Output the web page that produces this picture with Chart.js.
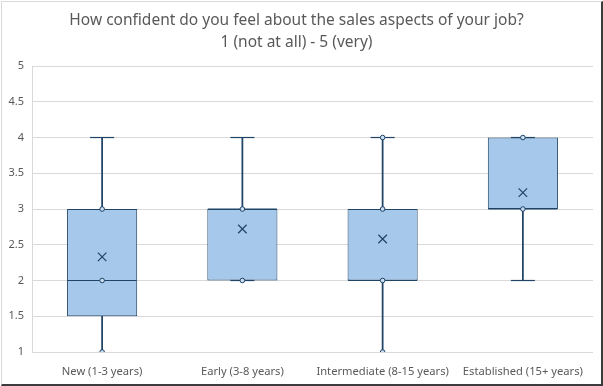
<!DOCTYPE html>
<html>
<head>
<meta charset="utf-8">
<script src="https://cdn.jsdelivr.net/npm/chart.js@4"></script>
<style>
  html, body { margin: 0; padding: 0; background: #fff; }
  #wrap { position: relative; width: 603px; height: 386px; }
  #frame {
    position: absolute; left: 1px; top: 1px; right: 0; bottom: 0;
    border-top: 1px solid #d9d9d9; border-left: 1px solid #d9d9d9;
    border-right: 2px solid #3c3c3c; border-bottom: 2px solid #3c3c3c;
    pointer-events: none;
  }
  canvas { display: block; }
</style>
</head>
<body>
<div id="wrap">
  <canvas id="chart" width="603" height="386"></canvas>
  <div id="frame"></div>
</div>
<script>
const categories = ["New (1-3 years)", "Early (3-8 years)", "Intermediate (8-15 years)", "Established (15+ years)"];
const mins = [1, 2, 1, 2];
const q1s = [1.5, 2, 2, 3];
const medians = [2, 3, 2, 3];
const q3s = [3, 3, 3, 4];
const maxs = [4, 4, 4, 4];
const means = [2.33, 2.72, 2.58, 3.23];
const innerPoints = [[1, 2, 3], [2, 3], [1, 2, 3, 4], [3, 4]];

const FILL = "#a6c8ea";
const DARK = "#1f4466";
const GREY_TEXT = "#595959";
const FONT = "'Noto Sans', sans-serif";

const boxData = categories.map((c, i) => [q1s[i], q3s[i]]);
const lowWhisker = categories.map((c, i) => (mins[i] < q1s[i] ? [mins[i], q1s[i]] : null));
const highWhisker = categories.map((c, i) => (maxs[i] > q3s[i] ? [q3s[i], maxs[i]] : null));
const capData = [];
categories.forEach((c, i) => {
  capData.push({ x: c, y: mins[i] });
  capData.push({ x: c, y: maxs[i] });
});
const medianData = categories.map((c, i) => ({ x: c, y: medians[i] }));
const meanData = categories.map((c, i) => ({ x: c, y: means[i] }));
const dotData = [];
innerPoints.forEach((vals, i) => vals.forEach((v) => dotData.push({ x: categories[i], y: v })));

new Chart(document.getElementById("chart"), {
  type: "bar",
  data: {
    labels: categories,
    datasets: [
      {
        type: "line", data: meanData, showLine: false, order: 0,
        pointStyle: "crossRot", pointRadius: 6, borderColor: DARK, borderWidth: 1.2,
      },
      {
        type: "line", data: dotData, showLine: false, order: 1,
        pointStyle: "circle", pointRadius: 2.3, borderColor: DARK, borderWidth: 1,
        backgroundColor: "#c9def2",
      },
      {
        type: "line", data: medianData, showLine: false, order: 2,
        pointStyle: "line", pointRadius: 34.5, borderColor: DARK, borderWidth: 1,
      },
      {
        // whisker caps; clipped so the cap sitting on the bottom axis stays hidden
        type: "line", data: capData, showLine: false, order: 3,
        pointStyle: "line", pointRadius: 12, borderColor: DARK, borderWidth: 1.2,
        clip: { left: 0, top: 0, right: 0, bottom: -1 },
      },
      {
        data: boxData, order: 4, grouped: false,
        backgroundColor: FILL, borderColor: DARK, borderWidth: 1, borderSkipped: false,
        barPercentage: 0.5, categoryPercentage: 1,
      },
      {
        data: lowWhisker, order: 5, grouped: false,
        backgroundColor: DARK, barThickness: 1.1,
      },
      {
        data: highWhisker, order: 5, grouped: false,
        backgroundColor: DARK, barThickness: 1.1,
      },
    ],
  },
  options: {
    responsive: false,
    animation: false,
    layout: { autoPadding: false, padding: { left: 0, right: 10, top: 0, bottom: 0 } },
    plugins: {
      legend: { display: false },
      tooltip: { enabled: false },
      title: {
        display: true,
        text: ["How confident do you feel about the sales aspects of your job?", "1 (not at all) - 5 (very)"],
        color: GREY_TEXT,
        font: { family: FONT, size: 15.5, weight: "normal", lineHeight: 1.42 },
        padding: { top: 10, bottom: 12 },
      },
    },
    scales: {
      x: {
        grid: { display: false },
        border: { display: false },
        ticks: { color: GREY_TEXT, font: { family: FONT, size: 11.2 }, padding: 5, maxRotation: 0, autoSkip: false },
        afterFit: (scale) => { scale.height = 34; },
      },
      y: {
        min: 1,
        max: 5,
        grid: { color: "#d9d9d9", drawTicks: false },
        border: { display: true, color: "#d9d9d9" },
        ticks: {
          stepSize: 0.5, color: GREY_TEXT, font: { family: FONT, size: 11 }, padding: 8,
          callback: (v) => String(v),
        },
        afterFit: (scale) => { scale.width = 32; },
      },
    },
  },
});
</script>
</body>
</html>
